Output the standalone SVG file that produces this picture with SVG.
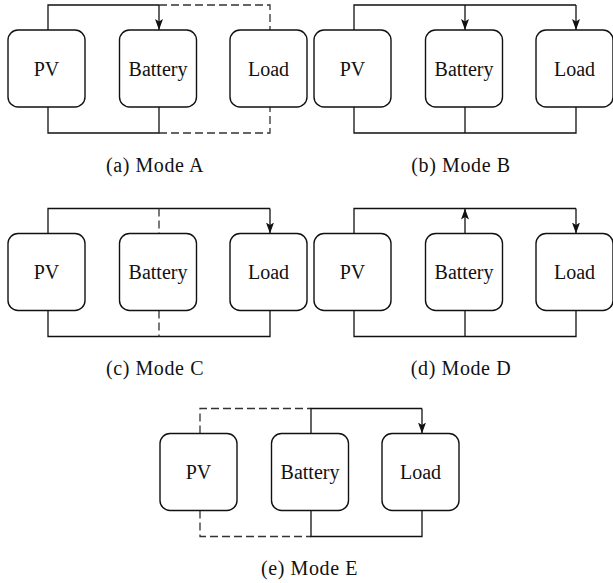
<svg xmlns="http://www.w3.org/2000/svg" width="613" height="583" viewBox="0 0 613 583">
<style>
.box{fill:#fff;stroke:#111;stroke-width:1.4}
.lbl{font-family:"Liberation Serif",serif;font-size:20px;fill:#111;text-anchor:middle}
.cap{font-family:"Liberation Serif",serif;font-size:20px;fill:#111;text-anchor:middle;letter-spacing:0.6px}
.w{fill:none;stroke:#111;stroke-width:1.3}
.d{fill:none;stroke:#333;stroke-width:1.3;stroke-dasharray:8 4}
.a{marker-end:url(#arr)}
</style>
<defs>
<marker id="arr" markerUnits="userSpaceOnUse" markerWidth="12" markerHeight="10" refX="11" refY="4.5" orient="auto">
<path d="M0,0.5 L11,4.5 L0,8.5 L2.5,4.5 Z" fill="#111"/>
</marker>
</defs>

<!-- Panel A -->
<g id="panel-a">
<g id="a-connectors">
<path class="w" d="M48,30 V5 H159"/>
<path class="w a" d="M159,5 V30"/>
<path class="d" d="M159,5 H270 V30"/>
<path class="w" d="M48,107 V133 H159 V107"/>
<path class="d" d="M159,133 H270 V107"/>
</g>
<g id="a-pv"><rect class="box" x="8" y="30" width="77" height="77" rx="10"/><text class="lbl" x="46.5" y="75.5">PV</text></g>
<g id="a-battery"><rect class="box" x="119.5" y="30" width="77" height="77" rx="10"/><text class="lbl" x="158" y="75.5">Battery</text></g>
<g id="a-load"><rect class="box" x="230" y="30" width="77" height="77" rx="10"/><text class="lbl" x="268.5" y="75.5">Load</text></g>
<text class="cap" x="155" y="171.5">(a) Mode A</text>
</g>

<!-- Panel B -->
<g id="panel-b" transform="translate(306,0)">
<g id="b-connectors">
<path class="w" d="M48,30 V5 H270"/>
<path class="w a" d="M159,5 V30"/>
<path class="w a" d="M270,5 V30"/>
<path class="w" d="M48,107 V133 H270 V107"/>
<path class="w" d="M159,107 V133"/>
</g>
<g id="b-pv"><rect class="box" x="8" y="30" width="77" height="77" rx="10"/><text class="lbl" x="46.5" y="75.5">PV</text></g>
<g id="b-battery"><rect class="box" x="119.5" y="30" width="77" height="77" rx="10"/><text class="lbl" x="158" y="75.5">Battery</text></g>
<g id="b-load"><rect class="box" x="230" y="30" width="77" height="77" rx="10"/><text class="lbl" x="268.5" y="75.5">Load</text></g>
<text class="cap" x="155" y="171.5">(b) Mode B</text>
</g>

<!-- Panel C -->
<g id="panel-c" transform="translate(0,203.5)">
<g id="c-connectors">
<path class="w" d="M48,30 V5 H270"/>
<path class="w a" d="M270,5 V30"/>
<path class="d" d="M159,5 V30"/>
<path class="w" d="M48,107 V133 H270 V107"/>
<path class="d" d="M159,107 V133"/>
</g>
<g id="c-pv"><rect class="box" x="8" y="30" width="77" height="77" rx="10"/><text class="lbl" x="46.5" y="75.5">PV</text></g>
<g id="c-battery"><rect class="box" x="119.5" y="30" width="77" height="77" rx="10"/><text class="lbl" x="158" y="75.5">Battery</text></g>
<g id="c-load"><rect class="box" x="230" y="30" width="77" height="77" rx="10"/><text class="lbl" x="268.5" y="75.5">Load</text></g>
<text class="cap" x="155" y="171.5">(c) Mode C</text>
</g>

<!-- Panel D -->
<g id="panel-d" transform="translate(306,203.5)">
<g id="d-connectors">
<path class="w" d="M48,30 V5 H270"/>
<path class="w a" d="M159,30 V5"/>
<path class="w a" d="M270,5 V30"/>
<path class="w" d="M48,107 V133 H270 V107"/>
<path class="w" d="M159,107 V133"/>
</g>
<g id="d-pv"><rect class="box" x="8" y="30" width="77" height="77" rx="10"/><text class="lbl" x="46.5" y="75.5">PV</text></g>
<g id="d-battery"><rect class="box" x="119.5" y="30" width="77" height="77" rx="10"/><text class="lbl" x="158" y="75.5">Battery</text></g>
<g id="d-load"><rect class="box" x="230" y="30" width="77" height="77" rx="10"/><text class="lbl" x="268.5" y="75.5">Load</text></g>
<text class="cap" x="155" y="171.5">(d) Mode D</text>
</g>

<!-- Panel E -->
<g id="panel-e" transform="translate(152,403.5)">
<g id="e-connectors">
<path class="d" d="M48,30 V5 H159"/>
<path class="w" d="M159,30 V5 H270"/>
<path class="w a" d="M270,5 V30"/>
<path class="d" d="M48,107 V133 H159"/>
<path class="w" d="M159,107 V133 H270 V107"/>
</g>
<g id="e-pv"><rect class="box" x="8" y="30" width="77" height="77" rx="10"/><text class="lbl" x="46.5" y="75.5">PV</text></g>
<g id="e-battery"><rect class="box" x="119.5" y="30" width="77" height="77" rx="10"/><text class="lbl" x="158" y="75.5">Battery</text></g>
<g id="e-load"><rect class="box" x="230" y="30" width="77" height="77" rx="10"/><text class="lbl" x="268.5" y="75.5">Load</text></g>
<text class="cap" x="157.5" y="171.5">(e) Mode E</text>
</g>
</svg>
